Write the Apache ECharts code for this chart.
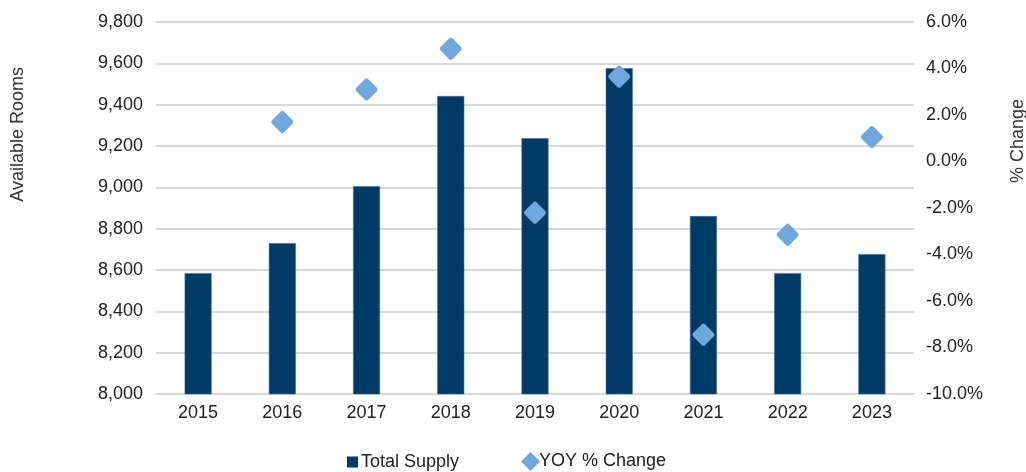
<!DOCTYPE html>
<html>
<head>
<meta charset="utf-8">
<script src="https://cdn.jsdelivr.net/npm/echarts@6/dist/echarts.min.js"></script>
<style>
  html, body { margin: 0; padding: 0; background: #fff; }
  #chart { width: 1026px; height: 472px; }
</style>
</head>
<body>
<div id="chart"></div>
<script>
// Hotel room supply by year, with year-over-year change
const years = ['2015', '2016', '2017', '2018', '2019', '2020', '2021', '2022', '2023'];
const totalSupply = [8585, 8730, 9005, 9442, 9238, 9577, 8861, 8585, 8677];
const yoyChange = [null, 1.7, 3.1, 4.85, -2.2, 3.65, -7.45, -3.15, 1.05];

const FONT = 'Liberation Sans, Arial, sans-serif';
const BAR = '#003b68';
const DOT = '#6fa8dc';
const chart = echarts.init(document.getElementById('chart'), null, { renderer: 'canvas' });

chart.setOption({
  animation: false,
  textStyle: { fontFamily: FONT },
  grid: { left: 156, right: 112, top: 22, bottom: 78 },
  legend: [
    {
      left: 342, top: 448,
      itemWidth: 11, itemHeight: 11,
      textStyle: { fontSize: 18, color: '#222', fontFamily: FONT, padding: [0, 0, 0, -2] },
      data: [{ name: 'Total Supply', icon: 'rect', itemStyle: { color: BAR, borderWidth: 0 } }]
    },
    {
      left: 516, top: 447,
      itemWidth: 19, itemHeight: 19,
      textStyle: { fontSize: 18, color: '#222', fontFamily: FONT, padding: [0, 0, 0, -6] },
      data: [{ name: 'YOY % Change', icon: 'diamond', itemStyle: { color: DOT, borderWidth: 0 } }]
    }
  ],
  graphic: [
    {
      type: 'text', left: 9, top: 67, rotation: Math.PI / 2,
      style: { text: 'Available Rooms', fontSize: 18, fill: '#333', fontFamily: FONT }
    },
    {
      type: 'text', left: 1009, top: 99, rotation: Math.PI / 2,
      style: { text: '% Change', fontSize: 18, fill: '#333', fontFamily: FONT }
    }
  ],
  xAxis: {
    type: 'category',
    data: years,
    axisTick: { show: false },
    axisLine: { onZero: false, lineStyle: { color: '#d9d9d9', width: 2 } },
    axisLabel: { color: '#222', fontSize: 18, margin: 10 }
  },
  yAxis: [
    {
      type: 'value',
      min: 8000,
      max: 9800,
      interval: 200,
      axisLine: { show: false },
      axisTick: { show: false },
      splitLine: { lineStyle: { color: '#d9d9d9', width: 2 } },
      axisLabel: {
        color: '#222', fontSize: 18, margin: 13,
        formatter: v => v.toLocaleString('en-US')
      }
    },
    {
      type: 'value',
      min: -10,
      max: 6,
      interval: 2,
      axisLine: { show: false },
      axisTick: { show: false },
      splitLine: { show: false },
      axisLabel: {
        color: '#222', fontSize: 18, margin: 12,
        formatter: v => v.toFixed(1) + '%'
      }
    }
  ],
  series: [
    {
      name: 'Total Supply',
      type: 'bar',
      yAxisIndex: 0,
      data: totalSupply,
      barWidth: 27,
      itemStyle: { color: BAR, borderColor: '#3f6f96', borderWidth: 0.6 }
    },
    {
      name: 'YOY % Change',
      type: 'scatter',
      yAxisIndex: 1,
      data: yoyChange,
      symbol: 'diamond',
      symbolSize: 17,
      z: 5,
      itemStyle: {
        color: DOT,
        opacity: 1,
        borderColor: DOT,
        borderWidth: 5,
        borderJoin: 'round'
      }
    }
  ]
});
</script>
</body>
</html>
